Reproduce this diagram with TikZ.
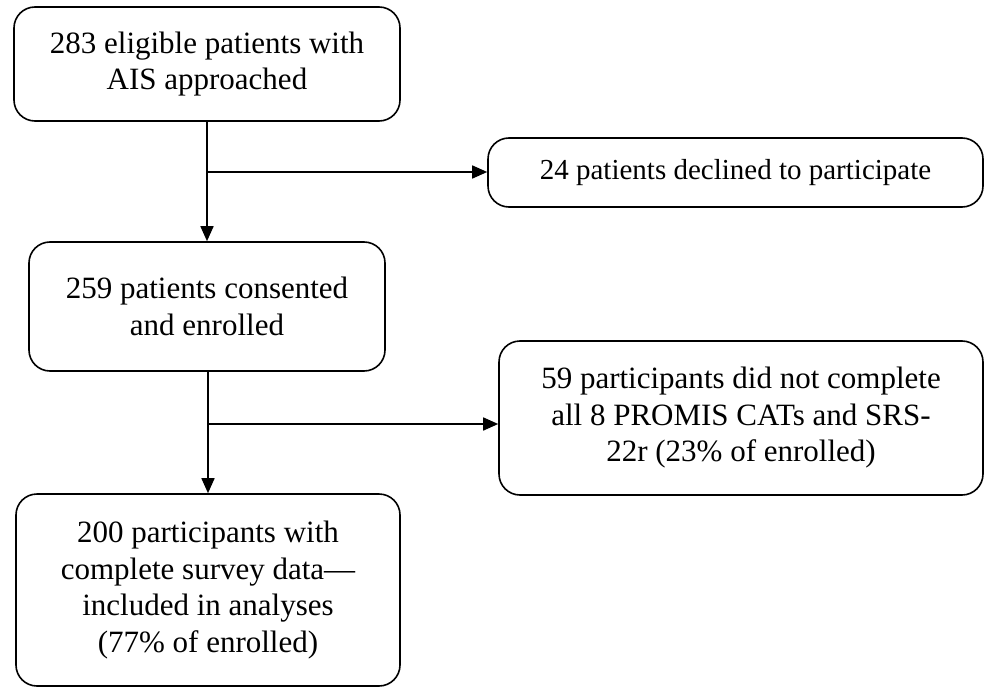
\documentclass[tikz,border=0pt]{standalone}
\usepackage{fontspec}
\setmainfont{Liberation Serif}
\usetikzlibrary{arrows.meta}
\begin{document}
\begin{tikzpicture}[
  box/.style={draw, line width=1.6pt, rounded corners=21pt, align=center, inner sep=0pt,
    font=\fontsize{31pt}{36.5pt}\selectfont},
  arr/.style={line width=1.6pt, -{Triangle[length=15pt,width=13pt]}}
]
\useasboundingbox (0,0) rectangle (984pt,-687pt);
\node[box, minimum width=386pt, minimum height=114pt] (b1) at (207pt,-64pt) {283 eligible patients with\\AIS approached};
\node[box, minimum width=495pt, minimum height=69pt, font=\fontsize{29pt}{36pt}\selectfont] (b2) at (735.5pt,-172.5pt) {24 patients declined to participate};
\node[box, minimum width=356pt, minimum height=129pt] (b3) at (207pt,-306.5pt) {259 patients consented\\and enrolled};
\node[box, minimum width=484pt, minimum height=154pt] (b4) at (741pt,-418pt) {59 participants did not complete\\all 8 PROMIS CATs and SRS-\\22r (23\% of enrolled)};
\node[box, minimum width=384pt, minimum height=192pt] (b5) at (208pt,-590pt) {200 participants with\\complete survey data—\\included in analyses\\(77\% of enrolled)};
\coordinate (j1) at (207pt,-172pt);
\coordinate (j2) at (208pt,-424pt);
\draw[arr] (b1.south) -- (b3.north);
\draw[arr] (j1) -- (j1 -| b2.west);
\draw[arr] (b3.south -| j2) -- (b5.north -| j2);
\draw[arr] (j2) -- (j2 -| b4.west);
\end{tikzpicture}
\end{document}
